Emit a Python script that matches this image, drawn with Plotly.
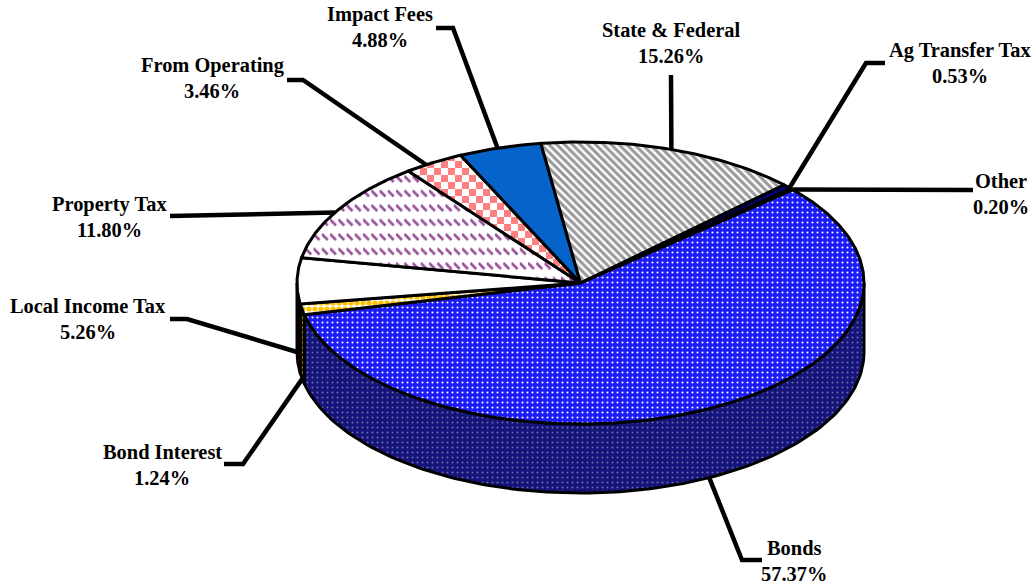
import numpy as np
import plotly.graph_objects as go

# Data (clockwise from the start angle, as in the chart)
names = ["Bonds", "Bond Interest", "Local Income Tax", "Property Tax", "From Operating",
         "Impact Fees", "State & Federal", "Ag Transfer Tax", "Other"]
values = [57.37, 1.24, 5.26, 11.80, 3.46, 4.88, 15.26, 0.53, 0.20]

# Style
top_fg = ["#ffffff", "#ffc000", "#ffffff", "#9a4f9a", "#ff8080", "#0563c9", "#999999", "#000080", "#000080"]
top_bg = ["#1c1cf8", "#ffffff", "#ffffff", "#ffffff", "#ffffff", "#0563c9", "#ffffff", "#000080", "#000080"]
top_shape = [".", ".", "", ".", ".", "", "\\", "", ""]
top_size = [5, 6, 8, 8.25, 14, 8, 5.5, 8, 8]
top_sol = [0.13, 0.6, 0.3, 0.3, 0.5, 0.3, 0.55, 0.3, 0.3]
side_fg = ["#6e6ea8", "#ffc000", "#000000"]
side_bg = ["#14147a", "#3a2e00", "#000000"]

# Geometry
CX, CY, RX, RY, DEPTH = 580.5, 283.0, 283.5, 141.0, 69.0
START = 48.5
# The 3D tilt shifts the apparent slice angles slightly
WARP_AT = [48.5, 255, 335, 352, 408.5]
WARP_BY = [0, 2, 1.6, 1, 0]

# Leader elbow and end, and label centre (x, first-line y)
elbows = [(742, 560), (243, 464), (187, 319), (185, 216), (303, 80), (453, 28), (671, 75), (866, 63), (958, 190)]
ends = [(762, 560), (224, 464), (170, 319), (170, 216), (287, 80), (436, 28), (671, 75), (885, 63), (973, 190)]
anchors_t = [153, 259, 270, 300, 327, 343, 18.7, 47.5, 48.5]  # angle where the leader meets the pie
anchors_depth = [1, 1, 1, 0, 0, 0, 0, 0, 0]
labels = [(794, 548), (162, 452), (88, 306), (109, 204), (212, 65), (380, 14), (671, 30), (960, 50), (1001, 181)]


def pt(t, dy=0.0):
    r = np.radians(t)
    return CX + RX * np.sin(r), CY - RY * np.cos(r) + dy


spans = []
a = START
for v in values:
    b = a + v * 3.6
    spans.append((a + float(np.interp(a, WARP_AT, WARP_BY)), b + float(np.interp(b, WARP_AT, WARP_BY))))
    a = b

fig = go.Figure()
LW = 3


def pattern(shape, fg, bg, size, sol):
    return dict(shape=shape, fgcolor=fg, bgcolor=bg, size=size, solidity=sol, fillmode="replace") if shape else None


# Side wall
for i in range(3):
    a, b = spans[i]
    a2, b2 = max(a, 90), min(b, 270)
    ts = np.linspace(a2, b2, 120)
    x1, y1 = pt(ts)
    x2, y2 = pt(ts[::-1], DEPTH)
    fig.add_trace(go.Scatter(x=np.r_[x1, x2, x1[0]], y=np.r_[y1, y2, y1[0]], mode="lines", fill="toself",
                             fillcolor=side_bg[i], line=dict(color="black", width=LW),
                             fillpattern=pattern(".", side_fg[i], side_bg[i], 5, 0.13),
                             hoverinfo="skip", showlegend=False))

# Top slices
for i, (a, b) in enumerate(spans):
    ts = np.linspace(a, b, max(4, int(b - a) * 2))
    xs, ys = pt(ts)
    fig.add_trace(go.Scatter(x=np.r_[CX, xs, CX], y=np.r_[CY, ys, CY], mode="lines", fill="toself",
                             fillcolor=top_bg[i], line=dict(color="black", width=LW, shape="linear"),
                             fillpattern=pattern(top_shape[i], top_fg[i], top_bg[i], top_size[i], top_sol[i]),
                             hoverinfo="skip", showlegend=False))

# Leaders
for i in range(len(names)):
    sx, sy = pt(anchors_t[i], DEPTH * anchors_depth[i])
    fig.add_trace(go.Scatter(x=[sx, elbows[i][0], ends[i][0]], y=[sy, elbows[i][1], ends[i][1]], mode="lines",
                             line=dict(color="black", width=4.5), hoverinfo="skip", showlegend=False))

font = dict(family="Liberation Serif", size=20.4, color="black")
annotations = []
for i, n in enumerate(names):
    lx, ly = labels[i]
    annotations.append(dict(x=lx, y=ly, text=f"<b>{n}</b>", showarrow=False, font=font, xanchor="center", yanchor="middle"))
    annotations.append(dict(x=lx, y=ly + 26, text=f"<b>{values[i]:.2f}%</b>", showarrow=False, font=font, xanchor="center", yanchor="middle"))

fig.update_layout(width=1036, height=586, margin=dict(l=0, r=0, t=0, b=0), paper_bgcolor="white", plot_bgcolor="white",
                  xaxis=dict(range=[0, 1036], visible=False, fixedrange=True),
                  yaxis=dict(range=[586, 0], visible=False, fixedrange=True),
                  annotations=annotations, showlegend=False)

# Remove the page margin; swap in the checkerboard and dashed-row tiles plotly's pattern shapes lack
post = """
document.body.style.margin = '0';
function tiles() {
  document.querySelectorAll('pattern').forEach(function (p) {
    var w = parseFloat(p.getAttribute('width'));
    if (w === 14) {
      p.innerHTML = '<rect width="14" height="14" fill="#ffffff"/>' +
        '<rect width="7" height="7" fill="#ff8080"/><rect x="7" y="7" width="7" height="7" fill="#ff8080"/>';
    } else if (w === 8.25) {
      p.setAttribute('height', '14.5');
      p.innerHTML = '<rect width="8.25" height="14.5" fill="#ffffff"/>' +
        '<path d="M0 2L6 8" stroke="#9a4f9a" stroke-width="2.6" fill="none"/>';
    }
  });
}
tiles();
setTimeout(tiles, 0);
setTimeout(tiles, 100);
"""
fig.write_html("out.html", config=dict(displayModeBar=False), post_script=post)
